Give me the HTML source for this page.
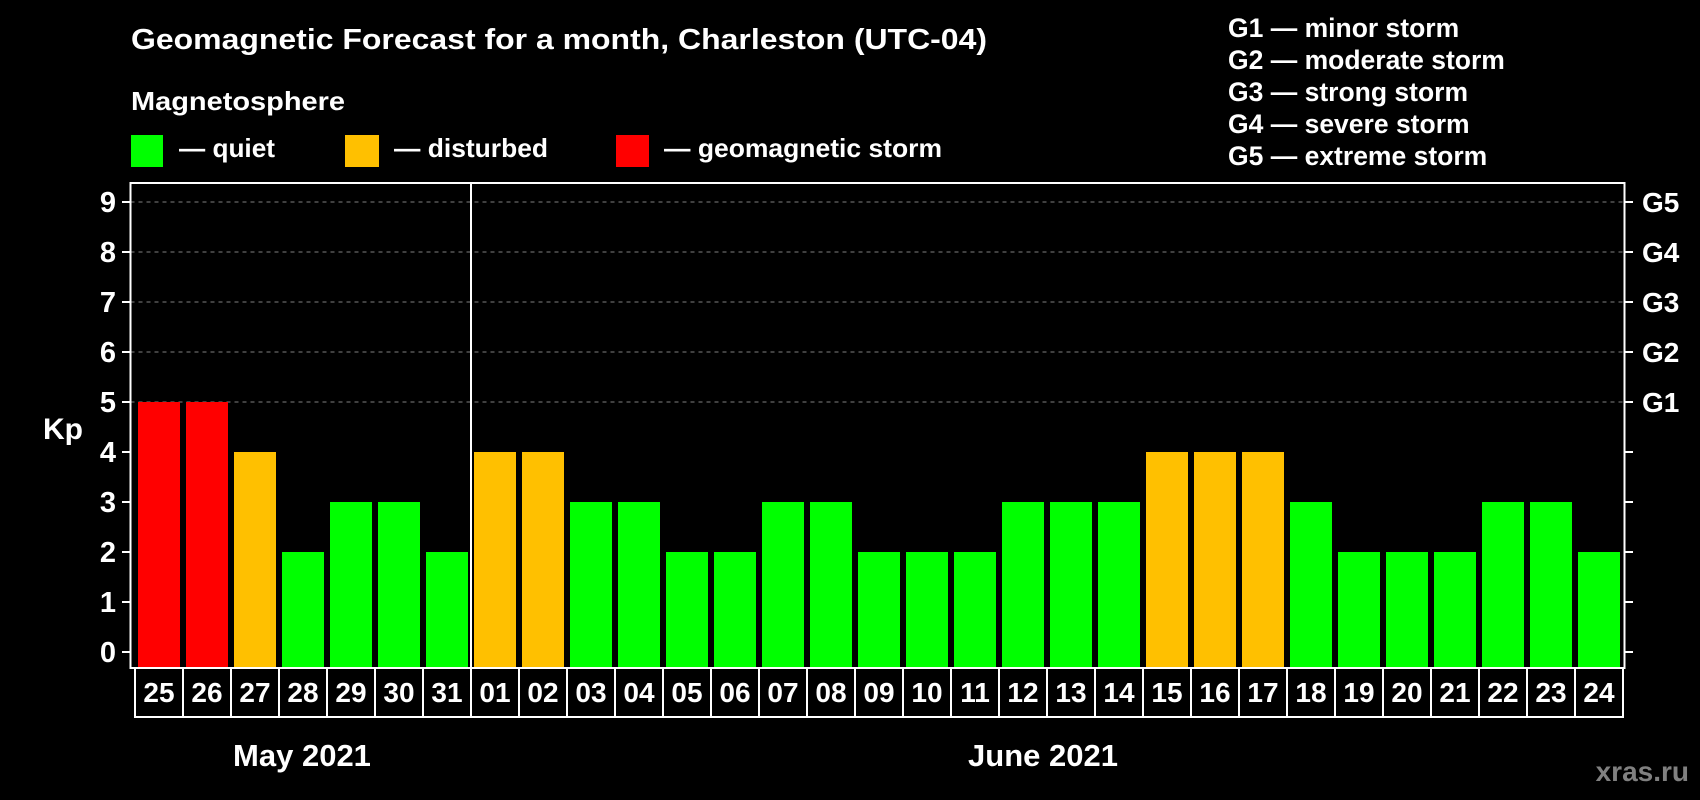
<!DOCTYPE html>
<html><head><meta charset="utf-8"><style>
html,body{margin:0;padding:0;background:#000;}
svg{display:block;font-family:"Liberation Sans",Arial,sans-serif;font-weight:bold;}
</style></head><body>
<svg id="chart" width="1700" height="800" viewBox="0 0 1700 800">
<rect width="1700" height="800" fill="#000"/>
<text x="131" y="49" font-size="29" fill="#fff" textLength="856" lengthAdjust="spacingAndGlyphs">Geomagnetic Forecast for a month, Charleston (UTC-04)</text>
<text x="131" y="110" font-size="26" fill="#fff" textLength="214" lengthAdjust="spacingAndGlyphs">Magnetosphere</text>
<g><rect x="131" y="135" width="32" height="32" fill="#00ff00"/><text x="179" y="157" font-size="26" fill="#fff" textLength="96" lengthAdjust="spacingAndGlyphs">— quiet</text></g>
<g><rect x="345" y="135" width="34" height="32" fill="#ffc000"/><text x="394" y="157" font-size="26" fill="#fff" textLength="154" lengthAdjust="spacingAndGlyphs">— disturbed</text></g>
<g><rect x="616" y="135" width="33" height="32" fill="#ff0000"/><text x="664" y="157" font-size="26" fill="#fff" textLength="278" lengthAdjust="spacingAndGlyphs">— geomagnetic storm</text></g>
<g font-size="26.5" fill="#fff">
<text x="1228" y="37">G1 — minor storm</text>
<text x="1228" y="69">G2 — moderate storm</text>
<text x="1228" y="101">G3 — strong storm</text>
<text x="1228" y="133">G4 — severe storm</text>
<text x="1228" y="165">G5 — extreme storm</text>
</g>
<text x="63" y="439" font-size="30" fill="#fff" text-anchor="middle">Kp</text>
<g id="grid"></g><g id="bars"></g><g id="axes"></g>
<text x="302" y="766" font-size="31" fill="#fff" text-anchor="middle">May 2021</text>
<text x="1043" y="766" font-size="31" fill="#fff" text-anchor="middle">June 2021</text>
<text x="1689" y="781" font-size="28" fill="#808080" text-anchor="end">xras.ru</text>
</svg>
<script>
const days = ["25","26","27","28","29","30","31","01","02","03","04","05","06","07","08","09","10","11","12","13","14","15","16","17","18","19","20","21","22","23","24"];
const kpValues = [5,5,4,2,3,3,2,4,4,3,3,2,2,3,3,2,2,2,3,3,3,4,4,4,3,2,2,2,3,3,2];
const yTicks = [0,1,2,3,4,5,6,7,8,9];
const gLabels = ["G1","G2","G3","G4","G5"];
const gLevels = [5,6,7,8,9];
const NS = "http://www.w3.org/2000/svg";
const L = 135, step = 48, bw = 42, plotL = 130.5, plotR = 1624.5, plotT = 183, plotB = 668;
const y = v => 652 - v * 50;
const x = i => L + i * step;
function mk(tag, attrs, parent) { const e = document.createElementNS(NS, tag); for (const k in attrs) e.setAttribute(k, attrs[k]); parent.appendChild(e); return e; }
const grid = document.getElementById('grid'), bars = document.getElementById('bars'), axes = document.getElementById('axes');
gLevels.forEach((g, i) => {
  const ln = mk('line', {x1: plotL, x2: plotR, y1: y(g), y2: y(g), stroke: '#808080', 'stroke-width': 1, 'stroke-dasharray': '4,4'}, grid);
  
  
  const t = mk('text', {x: 1642, y: y(g) + 10, 'font-size': 28, fill: '#fff'}, axes);
  t.textContent = gLabels[i];
  
  
});
kpValues.forEach((v, i) => {
  const c = v >= 5 ? '#ff0000' : (v === 4 ? '#ffc000' : '#00ff00');
  const r = mk('rect', {x: x(i) + 3, y: y(v), width: bw, height: plotB - y(v), fill: c}, bars);
  
  
  const t = mk('text', {x: x(i) + step / 2, y: 702, 'font-size': 28, fill: '#fff', 'text-anchor': 'middle'}, axes);
  t.textContent = days[i];
  
  
  if (i > 0) { mk('line', {x1: x(i), x2: x(i), y1: plotB, y2: 717, stroke: '#fff', 'stroke-width': 2}, axes); }
});
yTicks.forEach(v => {
  mk('line', {x1: 122, x2: plotL, y1: y(v), y2: y(v), stroke: '#fff', 'stroke-width': 2}, axes);
  mk('line', {x1: plotR, x2: 1633, y1: y(v), y2: y(v), stroke: '#fff', 'stroke-width': 2}, axes);
  const t = mk('text', {x: 116, y: y(v) + 10, 'font-size': 29, fill: '#fff', 'text-anchor': 'end'}, axes);
  t.textContent = v;
  
  
});
const frame = mk('rect', {x: plotL, y: plotT, width: plotR - plotL, height: plotB - plotT, fill: 'none', stroke: '#fff', 'stroke-width': 2}, axes);


const box = mk('rect', {x: L, y: plotB, width: step * days.length, height: 717 - plotB, fill: 'none', stroke: '#fff', 'stroke-width': 2}, axes);


const div = mk('line', {x1: x(7), x2: x(7), y1: plotT, y2: plotB, stroke: '#fff', 'stroke-width': 2}, axes);


</script>
</body></html>
